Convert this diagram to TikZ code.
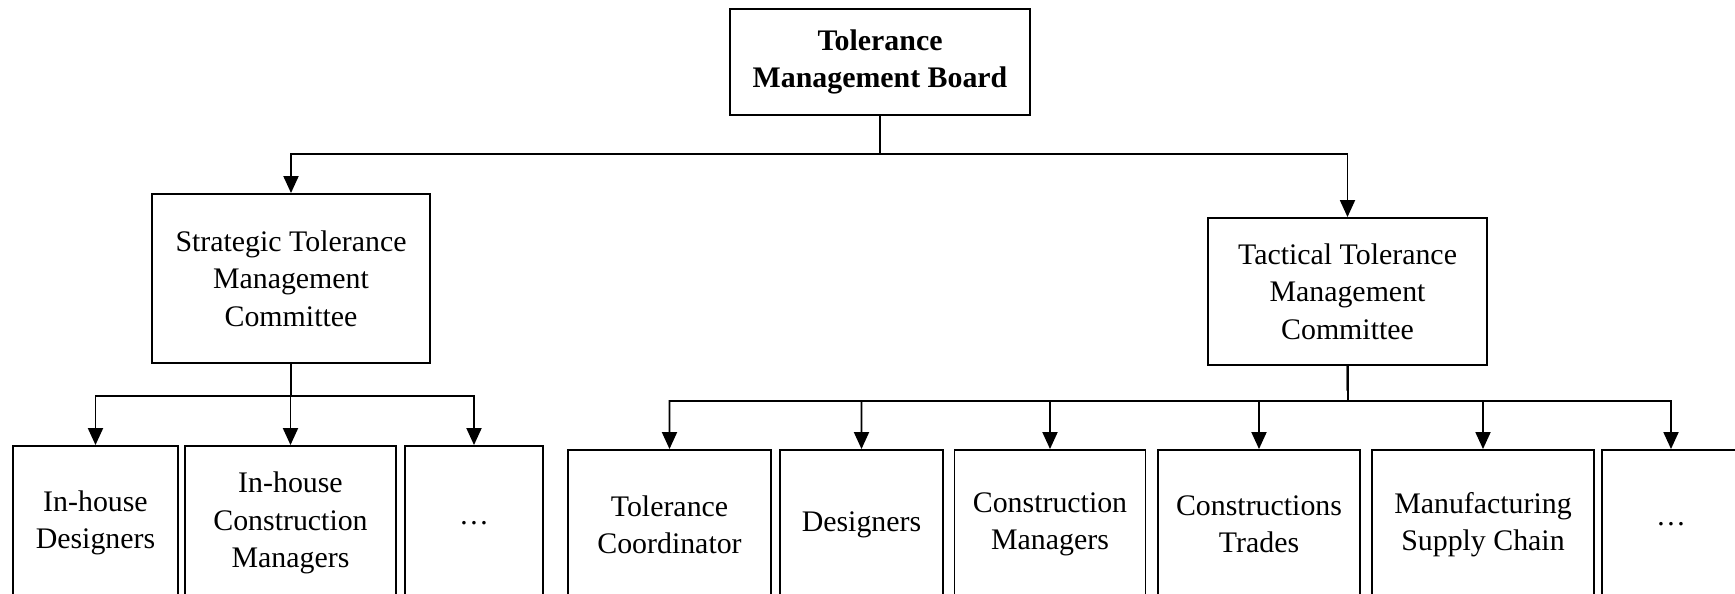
\documentclass[tikz,border=0pt]{standalone}
\usepackage{fontspec}
\setmainfont{Liberation Serif}
\usetikzlibrary{arrows.meta}

\tikzstyle{block} = [draw, text centered, align = center, inner sep = 0pt, line width = 1.1pt, font = \fontsize{17}{21.3}\selectfont]
\tikzstyle{arrow} = [-{Triangle[length = 0.34cm, width = 0.3cm]}, line width = 1.1pt]

\begin{document}
\begin{tikzpicture}[x = 0.02cm, y = -0.02cm]
		\useasboundingbox (0, 0) rectangle (1735, 594);
		\clip (0, 0) rectangle (1735, 594);

		\node [block, minimum width = 6cm, minimum height = 2.12cm, font = \fontsize{17}{21.3}\selectfont\bfseries] at (880, 62) (1) {Tolerance\\Management Board};
		\node [block, minimum width = 5.56cm, minimum height = 3.38cm] at (291, 278.5) (2) {Strategic Tolerance\\Management\\Committee};
		\node [block, minimum width = 5.58cm, minimum height = 2.94cm] at (1347.5, 291.5) (3) {Tactical Tolerance\\Management\\Committee};

		\node [block, minimum width = 3.3cm, minimum height = 3.08cm] at (95.5, 523) (4) {In-house\\Designers};
		\node [block, minimum width = 4.22cm, minimum height = 3.08cm] at (290.5, 523) (5) {In-house\\Construction\\Managers};
		\node [block, minimum width = 2.76cm, minimum height = 3.08cm] at (474, 523) (6) {\ldots};

		\node [block, minimum width = 4.06cm, minimum height = 2.98cm] at (669.5, 524.5) (7) {Tolerance\\Coordinator};
		\node [block, minimum width = 3.26cm, minimum height = 2.98cm] at (861.5, 524.5) (8) {Designers};
		\node [block, minimum width = 3.82cm, minimum height = 2.98cm] at (1050, 524.5) (9) {Construction\\Managers};
		\node [block, minimum width = 4.04cm, minimum height = 2.98cm] at (1259, 524.5) (10) {Constructions\\Trades};
		\node [block, minimum width = 4.44cm, minimum height = 2.98cm] at (1483, 524.5) (11) {Manufacturing\\Supply Chain};
		\node [block, minimum width = 2.76cm, minimum height = 2.98cm] at (1671, 524.5) (12) {\ldots};

		\coordinate (b1) at (880, 154);
		\coordinate (b2) at (291, 396);
		\coordinate (b3) at (1348, 401);

		\draw [arrow] (1) -- (b1) -| (2);
		\draw [arrow] (1) -- (b1) -| (3);
		\foreach \n in {4, 5, 6}
			\draw [arrow] (2) -- (b2) -| (\n);
		\foreach \n in {7, 8, 9, 10, 11, 12}
			\draw [arrow] (3) -- (b3) -| (\n);
	\end{tikzpicture}
\end{document}
